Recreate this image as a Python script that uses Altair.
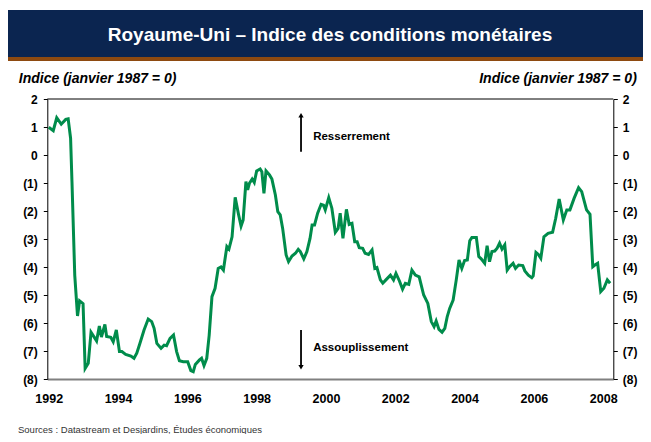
import altair as alt
import pandas as pd

# ---- data ----
years = [
    1992.00, 1992.13, 1992.23, 1992.36, 1992.49, 1992.56, 1992.63, 1992.67, 1992.75, 1992.83,
    1992.89, 1992.99, 1993.05, 1993.14, 1993.22, 1993.38, 1993.46, 1993.52, 1993.62, 1993.67,
    1993.79, 1993.86, 1993.95, 1994.04, 1994.11, 1994.22, 1994.37, 1994.46, 1994.54, 1994.63,
    1994.75, 1994.87, 1994.97, 1995.04, 1995.12, 1995.24, 1995.33, 1995.40, 1995.50, 1995.60,
    1995.69, 1995.77, 1995.88, 1996.01, 1996.10, 1996.17, 1996.23, 1996.35, 1996.41, 1996.48,
    1996.56, 1996.63, 1996.71, 1996.80, 1996.89, 1996.97, 1997.04, 1997.14, 1997.20, 1997.29,
    1997.38, 1997.48, 1997.55, 1997.61, 1997.69, 1997.74, 1997.79, 1997.87, 1997.93, 1998.00,
    1998.10, 1998.15, 1998.21, 1998.27, 1998.37, 1998.44, 1998.54, 1998.61, 1998.68, 1998.75,
    1998.85, 1998.92, 1999.02, 1999.12, 1999.20, 1999.26, 1999.36, 1999.45, 1999.54, 1999.60,
    1999.67, 1999.76, 1999.86, 1999.93, 1999.98, 2000.08, 2000.17, 2000.27, 2000.35, 2000.41,
    2000.49, 2000.59, 2000.67, 2000.75, 2000.83, 2000.90, 2000.96, 2001.06, 2001.13, 2001.23,
    2001.33, 2001.41, 2001.47, 2001.57, 2001.64, 2001.73, 2001.86, 2001.95, 2002.02, 2002.12,
    2002.21, 2002.29, 2002.39, 2002.48, 2002.58, 2002.69, 2002.82, 2002.94, 2003.04, 2003.12,
    2003.18, 2003.26, 2003.35, 2003.43, 2003.50, 2003.57, 2003.67, 2003.76, 2003.84, 2003.92,
    2004.00, 2004.08, 2004.15, 2004.21, 2004.34, 2004.41, 2004.48, 2004.58, 2004.65, 2004.72,
    2004.79, 2004.87, 2004.94, 2005.01, 2005.08, 2005.16, 2005.23, 2005.30, 2005.40, 2005.47,
    2005.56, 2005.68, 2005.74, 2005.84, 2005.94, 2005.98, 2006.06, 2006.13, 2006.20, 2006.29,
    2006.41, 2006.54, 2006.63, 2006.73, 2006.85, 2006.95, 2007.04, 2007.16, 2007.29, 2007.38,
    2007.52, 2007.62, 2007.70, 2007.76, 2007.84, 2007.93, 2008.02, 2008.12, 2008.20,
]
values = [
    0.99, 0.87, 1.33, 1.10, 1.27, 1.29, 0.60, -0.95, -4.29, -5.75,
    -5.21, -5.31, -7.62, -7.44, -6.33, -6.64, -6.11, -6.50, -6.05, -6.48,
    -6.51, -6.67, -6.25, -7.02, -7.02, -7.12, -7.18, -7.26, -7.08, -6.73,
    -6.25, -5.86, -5.95, -6.19, -6.73, -6.90, -6.79, -6.81, -6.55, -6.43,
    -7.02, -7.35, -7.38, -7.38, -7.70, -7.74, -7.48, -7.32, -7.26, -7.52,
    -7.26, -6.43, -5.06, -4.76, -4.05, -4.00, -4.11, -3.27, -3.36, -2.92,
    -1.51, -2.14, -2.54, -2.32, -0.95, -1.25, -1.01, -0.86, -0.98, -0.57,
    -0.50, -0.60, -1.37, -0.57, -0.71, -0.86, -1.43, -2.02, -2.14, -2.62,
    -3.57, -3.81, -3.61, -3.51, -3.37, -3.45, -3.71, -3.45, -2.98, -2.50,
    -2.50, -2.08, -1.76, -1.79, -1.96, -1.52, -1.90, -2.76, -2.62, -2.08,
    -2.98, -1.94, -2.48, -2.44, -3.10, -3.10, -3.31, -3.33, -3.51, -3.55,
    -3.39, -4.05, -4.02, -4.46, -4.58, -4.46, -4.29, -4.46, -4.23, -4.50,
    -4.79, -4.58, -4.62, -4.11, -4.29, -4.35, -5.00, -5.30, -5.95, -6.13,
    -5.93, -6.23, -6.33, -6.19, -5.77, -5.48, -5.18, -4.46, -3.75, -4.05,
    -3.77, -3.75, -3.06, -2.95, -2.95, -3.63, -3.71, -3.87, -3.24, -3.81,
    -3.45, -3.43, -3.33, -3.15, -3.36, -3.21, -4.11, -3.99, -3.87, -4.05,
    -3.93, -3.95, -4.14, -4.29, -4.38, -4.32, -3.48, -3.55, -3.69, -2.92,
    -2.80, -2.76, -2.26, -1.57, -2.32, -1.96, -1.96, -1.55, -1.17, -1.31,
    -1.96, -2.12, -3.99, -3.93, -3.87, -4.88, -4.76, -4.46, -4.58,
]
y_ticks = [2, 1, 0, -1, -2, -3, -4, -5, -6, -7, -8]
x_ticks = [1992, 1994, 1996, 1998, 2000, 2002, 2004, 2006, 2008]

title_text = "Royaume-Uni \u2013 Indice des conditions monétaires"
axis_title = "Indice (janvier 1987 = 0)"
source_text = "Sources : Datastream et Desjardins, Études économiques"
up_label = "Resserrement"
down_label = "Assouplissement"

# annotation anchors (data coordinates)
arrow_x = 1999.28
up_arrow = [1.42, 0.12]
down_arrow = [-6.25, -7.58]
label_x = 1999.63
up_label_y = 0.64
down_label_y = -6.89

FONT = "Liberation Sans"
GREEN = "#008C4B"
W, H = 566, 280

df = pd.DataFrame({"annee": years, "indice": values})

x_scale = alt.Scale(domain=[1991.958, 2008.292], nice=False, zero=False)
y_scale = alt.Scale(domain=[-8, 2], nice=False, zero=False)

label_expr = "datum.value < 0 ? '(' + abs(datum.value) + ')' : datum.value + '\u2008'"

common_axis = dict(
    values=y_ticks, labelExpr=label_expr, labelFont=FONT, labelFontSize=12,
    labelFontWeight="bold", labelColor="black", tickSize=4, tickColor="black",
    domainColor="black", domainWidth=1, grid=False, title=axis_title, titleAngle=0,
    titleBaseline="alphabetic", titleY=-17, titleFont=FONT, titleFontSize=14,
    titleFontStyle="italic", titleFontWeight="bold", titleColor="black",
)

left_axis = alt.Axis(orient="left", labelPadding=6, titleAlign="left", titleX=-29, **common_axis)
right_axis = alt.Axis(orient="right", labelPadding=5, titleAlign="right", titleX=23, **common_axis)

x_axis = alt.Axis(
    orient="bottom", values=x_ticks, format="d", ticks=False, domainColor="#808080",
    domainWidth=2, labelPadding=13, labelFont=FONT, labelFontSize=12.5,
    labelFontWeight="bold", labelColor="black", labelFlush=False, labelOverlap=False,
    grid=False, title=None,
)


def X(field):
    return alt.X(field, scale=x_scale, axis=x_axis)


base = alt.Chart(df)

line = base.mark_line(color=GREEN, strokeWidth=3).encode(
    x=X("annee:Q"),
    y=alt.Y("indice:Q", scale=y_scale, axis=left_axis),
)
line_right = base.mark_line(opacity=0).encode(
    x=X("annee:Q"),
    y=alt.Y("indice:Q", scale=y_scale, axis=right_axis),
)

one = alt.Data(values=[{}])

top_rule = alt.Chart(one).mark_rule(color="black", strokeWidth=1).encode(
    x=alt.value(0), x2=alt.value(W), y=alt.value(0)
)

banner = alt.Chart(one).mark_rect(color="#0B2550").encode(
    x=alt.value(-39.3), x2=alt.value(595.7), y=alt.value(-89), y2=alt.value(-42)
)
strip = alt.Chart(one).mark_rect(color="#8E4A10").encode(
    x=alt.value(-39.3), x2=alt.value(595.7), y=alt.value(-42), y2=alt.value(-38)
)
title = alt.Chart(one).mark_text(
    text=title_text, font=FONT, fontSize=19, fontWeight="bold", color="white",
    align="center", baseline="middle",
).encode(x=alt.value(282.7), y=alt.value(-64.3))

source = alt.Chart(one).mark_text(
    text=source_text, font=FONT, fontSize=9.5, color="#333333",
    align="left", baseline="alphabetic",
).encode(x=alt.value(-29.3), y=alt.value(334))

arrows_df = pd.DataFrame({
    "x": [arrow_x, arrow_x],
    "y": [up_arrow[0], down_arrow[0]],
    "y2": [up_arrow[1], down_arrow[1]],
})
arrow_lines = alt.Chart(arrows_df).mark_rule(color="black", strokeWidth=1.8).encode(
    x=X("x:Q"),
    y=alt.Y("y:Q", scale=y_scale, axis=None),
    y2="y2:Q",
)
head_up = alt.Chart(pd.DataFrame({"x": [arrow_x], "y": [up_arrow[0]]})).mark_point(
    shape="triangle-up", filled=True, color="black", size=28, opacity=1
).encode(
    x=X("x:Q"),
    y=alt.Y("y:Q", scale=y_scale, axis=None),
)
head_down = alt.Chart(pd.DataFrame({"x": [arrow_x], "y": [down_arrow[1]]})).mark_point(
    shape="triangle-down", filled=True, color="black", size=28, opacity=1
).encode(
    x=X("x:Q"),
    y=alt.Y("y:Q", scale=y_scale, axis=None),
)
labels_df = pd.DataFrame({
    "x": [label_x, label_x],
    "y": [up_label_y, down_label_y],
    "t": [up_label, down_label],
})
ann_text = alt.Chart(labels_df).mark_text(
    font=FONT, fontSize=11.5, fontWeight="bold", color="black",
    align="left", baseline="middle",
).encode(
    x=X("x:Q"),
    y=alt.Y("y:Q", scale=y_scale, axis=None),
    text="t:N",
)

chart = alt.layer(
    banner, strip, title, source, top_rule, arrow_lines, head_up, head_down,
    ann_text, line_right, line,
).resolve_axis(y="independent").properties(
    width=W, height=H,
    autosize=alt.AutoSizeParams(type="none"),
    padding={"left": 39.3, "top": 91, "right": 29.7, "bottom": 55},
    background="white",
).configure_view(stroke=None)

chart.save("out.html", embed_options={"renderer": "svg", "actions": False})
